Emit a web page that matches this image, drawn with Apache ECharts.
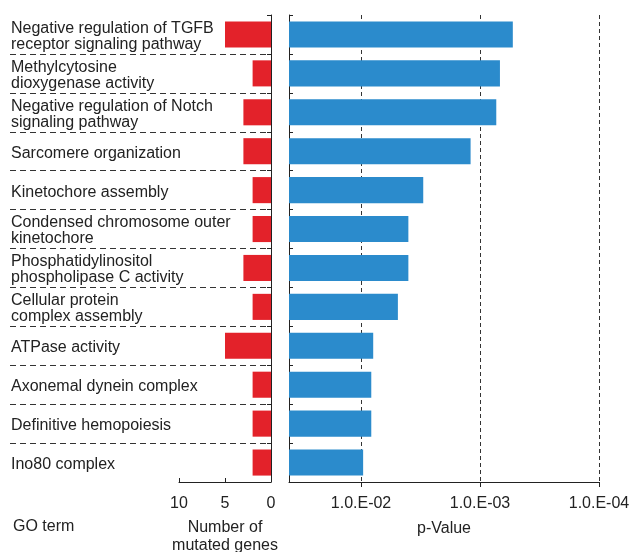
<!DOCTYPE html>
<html>
<head>
<meta charset="utf-8">
<script src="https://cdn.jsdelivr.net/npm/echarts@6/dist/echarts.min.js"></script>
<style>
    html, body { margin: 0; padding: 0; background: #fff; }
    #chart { width: 630px; height: 552px; }
</style>
</head>
<body>
<div id="chart"></div>
<script>
    // GO terms, top to bottom
    var terms = [
        'Negative regulation of TGFB\nreceptor signaling pathway',
        'Methylcytosine\ndioxygenase activity',
        'Negative regulation of Notch\nsignaling pathway',
        'Sarcomere organization',
        'Kinetochore assembly',
        'Condensed chromosome outer\nkinetochore',
        'Phosphatidylinositol\nphospholipase C activity',
        'Cellular protein\ncomplex assembly',
        'ATPase activity',
        'Axonemal dynein complex',
        'Definitive hemopoiesis',
        'Ino80 complex'
    ]
    var mutatedGenes = [5, 2, 3, 3, 2, 2, 3, 2, 5, 2, 2, 2]
    var pValues = [5.3e-4, 6.8e-4, 7.3e-4, 1.2e-3, 3.0e-3, 4.0e-3, 4.0e-3, 4.9e-3, 7.9e-3, 8.2e-3, 8.2e-3, 9.6e-3]
    var pTicks = [1e-2, 1e-3, 1e-4]
    var geneTicks = [10, 5, 0]
    var pAxisStart = 0.0403   // p-value at the left edge of the p panel

    var toLog = function (p) { return -Math.log10(p) }
    var logTicks = pTicks.map(function (p) { return Math.round(toLog(p)) })
    var txt = '#222'
    var font = 'Liberation Sans, Arial, sans-serif'

    var myChart = echarts.init(document.getElementById('chart'))
    myChart.setOption({
        animation: false,
        textStyle: { fontFamily: font, color: txt },
        grid: [
            // dashed separators between terms
            { left: 10, right: 359, top: 15, bottom: 70, outerBoundsMode: 'none' },
            // mutated genes
            { left: 179, right: 359, top: 15, bottom: 70, outerBoundsMode: 'none' },
            // p-value
            { left: 289, right: 31, top: 15, bottom: 70, outerBoundsMode: 'none' },
            // term labels (nudged down a bit)
            { left: 10, right: 359, top: 17, bottom: 68, outerBoundsMode: 'none' }
        ],
        xAxis: [
            { gridIndex: 0, type: 'value', min: 0, max: 1, show: false },
            {
                gridIndex: 1, type: 'value', min: 0, max: 10, inverse: true,
                interval: 5,
                name: 'Number of\nmutated genes',
                nameLocation: 'middle',
                nameGap: 37,
                nameTextStyle: { fontSize: 16, color: txt, lineHeight: 18, fontFamily: font },
                axisLine: { show: true, lineStyle: { color: '#222', width: 1 } },
                axisTick: { show: true, inside: true, length: 4, lineStyle: { color: '#222' } },
                axisLabel: { fontSize: 16, color: txt, margin: 14, fontFamily: font,
                    customValues: geneTicks },
                splitLine: { show: false }
            },
            {
                gridIndex: 2, type: 'value', min: toLog(pAxisStart), max: 4,
                name: 'p-Value',
                nameLocation: 'middle',
                nameGap: 39,
                nameTextStyle: { fontSize: 16, color: txt, fontFamily: font },
                axisLine: { show: true, lineStyle: { color: '#222', width: 1 } },
                axisTick: { show: true, length: 5, lineStyle: { color: '#222' }, customValues: logTicks },
                axisLabel: {
                    fontSize: 16, color: txt, margin: 14, fontFamily: font,
                    customValues: logTicks,
                    formatter: function (v) {
                        return '1.0.E-' + String(Math.round(v)).padStart(2, '0')
                    }
                },
                splitLine: { show: true, lineStyle: { color: '#333', type: [4, 3], width: 1 } }
            },
            { gridIndex: 3, type: 'value', min: 0, max: 1, show: false }
        ],
        yAxis: [
            {
                gridIndex: 0, type: 'category', data: terms, inverse: true,
                axisLine: { show: false },
                axisTick: { show: false },
                axisLabel: { show: false },
                splitLine: {
                    show: true, interval: 0, showMinLine: false, showMaxLine: false,
                    lineStyle: { color: '#333', type: [6, 4], width: 1 }
                }
            },
            {
                gridIndex: 1, type: 'category', data: terms, inverse: true,
                position: 'right',
                axisLine: { show: true, lineStyle: { color: '#222', width: 1 } },
                axisTick: { show: true, inside: true, length: 4, interval: 0, lineStyle: { color: '#222' } },
                axisLabel: { show: false },
                splitLine: { show: false }
            },
            {
                gridIndex: 2, type: 'category', data: terms, inverse: true,
                position: 'left',
                axisLine: { show: true, lineStyle: { color: '#222', width: 1 } },
                axisTick: { show: true, inside: true, length: 4, interval: 0, lineStyle: { color: '#222' } },
                axisLabel: { show: false },
                splitLine: { show: false }
            },
            {
                gridIndex: 3, type: 'category', data: terms, inverse: true,
                axisLine: { show: false },
                axisTick: { show: false },
                axisLabel: {
                    inside: true, margin: 1, fontSize: 16, lineHeight: 16,
                    color: txt, fontFamily: font, interval: 0
                },
                splitLine: { show: false }
            }
        ],
        graphic: [{
            type: 'text',
            left: 13,
            top: 519,
            style: { text: 'GO term', fontSize: 16, fill: txt, fontFamily: font }
        }],
        series: [
            {
                name: 'Number of mutated genes',
                type: 'bar',
                xAxisIndex: 1, yAxisIndex: 1,
                data: mutatedGenes,
                barCategoryGap: '33%',
                itemStyle: { color: '#e3222a' }
            },
            {
                name: 'p-Value',
                type: 'bar',
                xAxisIndex: 2, yAxisIndex: 2,
                data: pValues.map(toLog),
                barCategoryGap: '33%',
                itemStyle: { color: '#2b8bcc' }
            }
        ]
    })
    window.onresize = myChart.resize
</script>
</body>
</html>
